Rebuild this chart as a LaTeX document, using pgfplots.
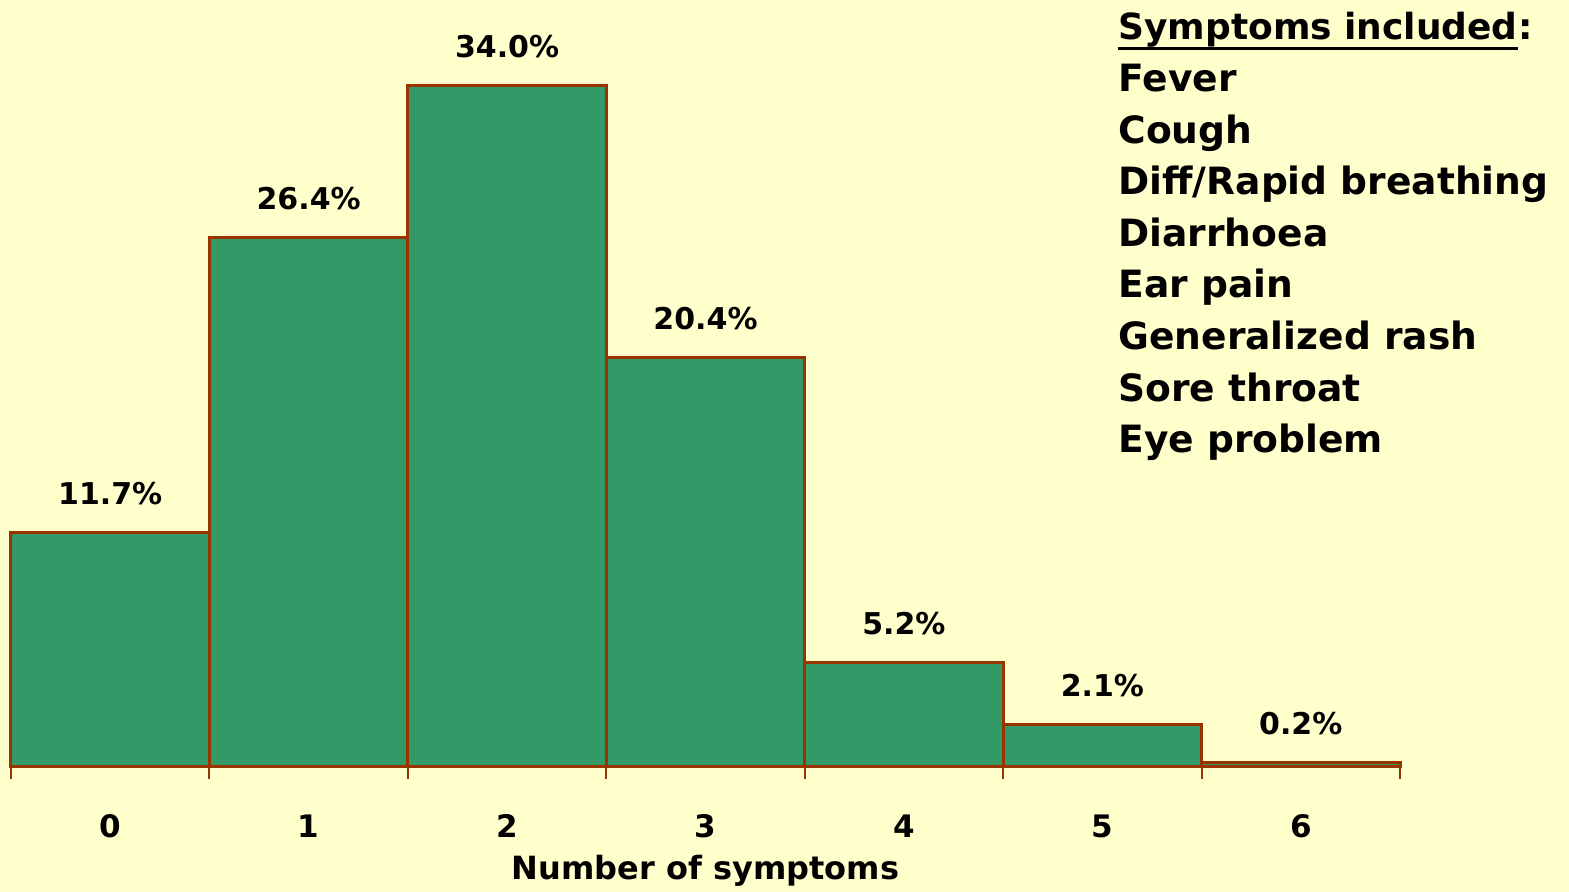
\documentclass[border=0pt]{standalone}
\usepackage{pgfplots}
\pgfplotsset{compat=1.18}
\usepackage{fontspec}
\setmainfont{DejaVu Sans}
\definecolor{bgy}{HTML}{FFFFCC}
\definecolor{barg}{HTML}{339966}
\definecolor{edgeb}{HTML}{993300}
\begin{document}
\begin{tikzpicture}
\fill[bgy] (0,0) rectangle (784.5pt,446pt);
\useasboundingbox (0,0) rectangle (784.5pt,446pt);
\begin{axis}[
  at={(5.5pt,62.5pt)}, anchor=south west,
  scale only axis, width=694.5pt, height=380.95pt,
  xmin=-0.5, xmax=6.5, ymin=0, ymax=38,
  axis y line=none, axis x line*=bottom,
  x axis line style={-, draw=edgeb, line width=1.5pt},
  xtick={0,...,6}, major tick length=0pt,
  minor xtick={-0.5,0.5,...,6.5}, minor tick length=6pt,
  tick align=outside, tick pos=bottom,
  minor tick style={draw=edgeb, line width=1pt},
  /pgf/number format/assume math mode=true,
  xticklabel style={anchor=base, yshift=-35.5pt, font=\fontsize{15.5}{18}\selectfont\bfseries},
  xlabel={Number of symptoms},
  xlabel style={at={(axis description cs:0.5,0)}, anchor=base, yshift=-56.5pt, font=\fontsize{16}{19}\selectfont\bfseries},
  clip=false,
  nodes near coords={\pgfmathprintnumber[fixed,zerofill,precision=1]{\pgfplotspointmeta}\%},
  every node near coord/.style={anchor=base, yshift=14pt, font=\fontsize{15}{18}\selectfont\bfseries, text=black},
]
\addplot[ybar, bar width=1, fill=barg, draw=edgeb, line width=1.5pt] coordinates {
(0,11.7) (1,26.4) (2,34.0) (3,20.4) (4,5.2) (5,2.1) (6,0.2)};
\end{axis}
\begin{scope}[every node/.style={inner sep=0pt, anchor=base west, font=\fontsize{18.8}{22}\selectfont\bfseries}]
\node[font=\fontsize{18}{22}\selectfont\bfseries] (t) at (559pt,426pt) {Symptoms included};
\node[font=\fontsize{18}{22}\selectfont\bfseries] at (t.base east) {:};
\draw[line width=1.5pt] ([yshift=-4.5pt]t.base west) -- ([yshift=-4.5pt]t.base east);
\foreach \txt [count=\i] in {Fever,Cough,Diff/Rapid breathing,Diarrhoea,Ear pain,Generalized rash,Sore throat,Eye problem}{
  \node at (559pt,{426pt-\i*25.8pt}) {\txt};
}
\end{scope}
\end{tikzpicture}
\end{document}
